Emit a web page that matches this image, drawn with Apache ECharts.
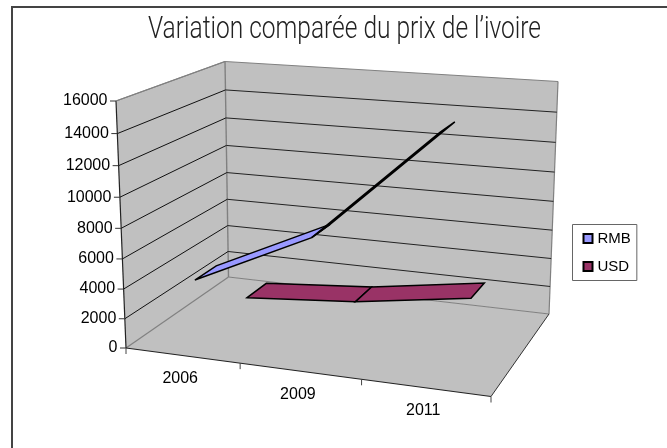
<!DOCTYPE html>
<html><head><meta charset="utf-8">
<style>html,body{margin:0;padding:0;background:#fff}#c{width:667px;height:448px}</style>
<script src="https://cdn.jsdelivr.net/npm/echarts@6/dist/echarts.min.js"></script>
</head><body><div id="c"></div>
<script>
const chartTitle = 'Variation comparée du prix de l’ivoire';
const categories = ['2006', '2009', '2011'];
const rmbValues = [4400, 8000, 15100];
const usdValues = [620, 1250, 2450];
const valueTicks = [0, 2000, 4000, 6000, 8000, 10000, 12000, 14000, 16000];

const chart = echarts.init(document.getElementById('c'), null, {renderer: 'canvas'});
const FONT = '"Liberation Sans", Arial, sans-serif';

// oblique view: corners of the plot box [x, y] on the page
const box = {
  fl0: [126, 348], fr0: [491, 396.5], bl0: [228.5, 277], br0: [549, 314],
  fl1: [116, 101], fr1: [499, 129], bl1: [225, 61.5], br1: [558, 81.5]
};
const persp = (t, a) => t * a / (1 + (a - 1) * t);
const mix = (p, q, t) => [p[0] + (q[0] - p[0]) * t, p[1] + (q[1] - p[1]) * t];
function project(u, v, w) {
  const U = persp(u, 0.91), V = persp(v, 0.94);
  const f0 = mix(box.fl0, box.fr0, U), b0 = mix(box.bl0, box.br0, U);
  const f1 = mix(box.fl1, box.fr1, U), b1 = mix(box.bl1, box.br1, U);
  return mix(mix(f0, b0, w), mix(f1, b1, w), V);
}
// read library scales and turn them into box fractions
function uv(params, api, cat, val) {
  const c = api.coord([cat, val]), r = params.coordSys;
  return [(c[0] - r.x) / r.width, (r.y + r.height - c[1]) / r.height];
}
const seg = (a, b, color, width) => ({type: 'line', shape: {x1: a[0], y1: a[1], x2: b[0], y2: b[1]}, style: {stroke: color, lineWidth: width}});
const poly = (pts, fill, stroke, width) => ({type: 'polygon', shape: {points: pts}, style: {fill, stroke, lineWidth: width, lineJoin: 'miter', miterLimit: 3}});
const txt = (s, x, y, align) => ({type: 'text', style: {text: s, x, y, align, verticalAlign: 'middle', fontFamily: FONT, fontSize: 16, fill: '#000'}});

function wallsItem() {
  return {type: 'group', children: [
    poly([project(0,0,0), project(1,0,0), project(1,0,1), project(0,0,1)], '#C0C0C0', null, 0),
    poly([project(0,0,0), project(0,1,0), project(0,1,1), project(0,0,1)], '#C0C0C0', null, 0),
    poly([project(0,0,1), project(1,0,1), project(1,1,1), project(0,1,1)], '#C0C0C0', null, 0),
    seg(project(0,1,0), project(0,1,1), '#808080', 1.2),
    seg(project(0,1,1), project(1,1,1), '#808080', 1.2),
    seg(project(1,1,1), project(1,0,1), '#808080', 1.2),
    seg(project(0,1,1), project(0,0,1), '#808080', 1.4),
    seg(project(0,0,1), project(1,0,1), '#808080', 1.2),
    seg(project(0,0,0), project(0,0,1), '#808080', 1.2),
    seg(project(0,0,0), project(0,1,0), '#222', 1.2),
    seg(project(0,0,0), project(1,0,0), '#222', 1.2),
    seg(project(1,0,0), project(1,0,1), '#333', 1)
  ]};
}
function gridItem(params, api) {
  const val = api.value(1);
  const v = uv(params, api, 0, val)[1];
  const a = project(0, v, 0), b = project(0, v, 1), c = project(1, v, 1);
  const kids = [seg([a[0] - 6, a[1]], a, '#333', 1), txt(String(val), a[0] - 8.5, a[1], 'right')];
  if (val > 0 && val < 16000) kids.unshift(seg(a, b, '#111', 1), seg(b, c, '#222', 1));
  else if (val === 16000) kids.unshift(seg(a, b, '#808080', 1.2));
  return {type: 'group', children: kids};
}
function catItem(params, api) {
  const i = api.value(0);
  const u = uv(params, api, i, 0)[0];
  const p = project(u, 0, 0);
  const kids = [txt(categories[i], p[0] - 2, p[1] + 23, 'center')];
  const edge = project(u + 1 / 6, 0, 0);
  kids.push(seg(edge, [edge[0], edge[1] + 6], '#444', 1));
  if (i === 0) { const e0 = project(0, 0, 0); kids.push(seg(e0, [e0[0], e0[1] + 6], '#444', 1)); }
  return {type: 'group', children: kids};
}
const ribbon = (values, w0, w1, fill) => (params, api) => {
  const i = api.value(0);
  if (i >= values.length - 1) return {type: 'group', children: []};
  const a = uv(params, api, i, values[i]), b = uv(params, api, i + 1, values[i + 1]);
  return poly([project(a[0], a[1], w0), project(b[0], b[1], w0), project(b[0], b[1], w1), project(a[0], a[1], w1)], fill, '#000', 1.5);
};
const points = values => values.map((v, i) => [i, v]);
const base = {type: 'custom', clip: false, silent: true, encode: {x: 0, y: 1}};

// fit the light title to its width in the reference (the original face is condensed)
const titleFont = '300 31px Roboto, "Liberation Sans", sans-serif';
const mctx = document.createElement('canvas').getContext('2d');
mctx.font = titleFont;
const titleScale = 393 / mctx.measureText(chartTitle).width;

chart.setOption({
  animation: false,
  backgroundColor: '#fff',
  grid: {left: 130, top: 110, width: 300, height: 200},
  xAxis: {type: 'category', data: categories, show: false},
  yAxis: {type: 'value', min: 0, max: 16000, interval: 2000, show: false},
  legend: {data: ['RMB', 'USD'], orient: 'vertical', left: 572.5, top: 224.5, padding: [5, 6, 5, 10], itemWidth: 9, itemHeight: 9, itemGap: 10,
    icon: 'rect', borderColor: '#666', borderWidth: 1, backgroundColor: '#fff', selectedMode: false,
    textStyle: {fontFamily: FONT, fontSize: 15, color: '#000', height: 18, lineHeight: 18}},
  graphic: [
    {type: 'line', shape: {x1: 12, y1: 7, x2: 667, y2: 7}, style: {stroke: '#444', lineWidth: 2}},
    {type: 'line', shape: {x1: 12, y1: 6, x2: 12, y2: 448}, style: {stroke: '#444', lineWidth: 2}},
    {type: 'text', x: 148, y: 30, scaleX: titleScale, style: {text: chartTitle, x: 0, y: 0, verticalAlign: 'middle', font: titleFont, fill: '#222'}}
  ],
  series: [
    Object.assign({}, base, {name: 'walls', z: 1, data: [[0, 0]], renderItem: wallsItem}),
    Object.assign({}, base, {name: 'gridlines', z: 2, data: valueTicks.map(v => [0, v]), renderItem: gridItem}),
    Object.assign({}, base, {name: 'categories', z: 2, data: categories.map((c, i) => [i, 0]), renderItem: catItem}),
    Object.assign({}, base, {name: 'USD', z: 3, data: points(usdValues), itemStyle: {color: '#993366', borderColor: '#000', borderWidth: 1}, renderItem: ribbon(usdValues, 0.68, 0.88, '#993366')}),
    Object.assign({}, base, {name: 'RMB', z: 4, data: points(rmbValues), itemStyle: {color: '#9999FF', borderColor: '#000', borderWidth: 1}, renderItem: ribbon(rmbValues, 0.15, 0.37, '#9999FF')})
  ]
});
</script></body></html>
